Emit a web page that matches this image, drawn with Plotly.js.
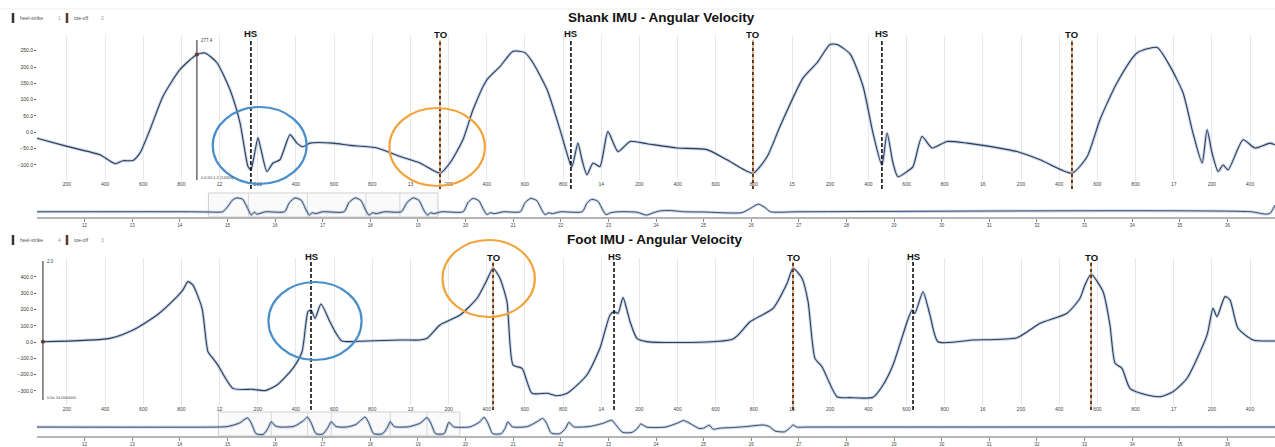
<!DOCTYPE html>
<html><head><meta charset="utf-8">
<script src="https://cdn.plot.ly/plotly-3.0.1.min.js"></script>
<style>html,body{margin:0;padding:0;background:#fff}#chart{width:1275px;height:447px}</style>
</head><body><div id="chart"></div>
<script>
// ---------- DATA ----------
const shankT = [11.043,11.2,11.373,11.452,11.493,11.546,11.583,11.635,11.703,11.792,11.881,11.923,11.986,12.054,12.107,12.149,12.164,12.180,12.201,12.217,12.248,12.280,12.316,12.369,12.405,12.437,12.474,12.594,12.683,12.825,12.945,13.050,13.155,13.207,13.275,13.328,13.401,13.469,13.538,13.600,13.642,13.716,13.784,13.836,13.847,13.878,13.899,13.925,13.957,13.993,14.035,14.088,14.151,14.240,14.397,14.554,14.659,14.795,14.869,14.937,15.057,15.131,15.199,15.236,15.304,15.372,15.424,15.471,15.498,15.529,15.555,15.603,15.634,15.681,15.734,15.812,15.917,16.001,16.179,16.300,16.467,16.546,16.614,16.703,16.808,16.913,16.981,17.049,17.101,17.149,17.175,17.201,17.233,17.259,17.285,17.364,17.426,17.505,17.531];
const shankV = [-18,-43,-69,-96,-87,-86,-63,8,110,192,238,243,213,131,29,-105,-115,-75,-17,-53,-120,-94,-84,-7,-33,-44,-33,-33,-40,-48,-74,-94,-125,-94,-23,69,161,201,248,244,213,131,8,-94,-105,-33,-84,-130,-94,-105,2,-59,-28,-35,-48,-53,-84,-125,-75,18,166,213,269,269,240,141,-2,-100,-2,-94,-136,-120,-105,-13,-48,-28,-33,-40,-59,-84,-125,-75,39,152,243,260,202,121,-2,-94,8,-63,-120,-100,-115,-23,-48,-33,-38];

const footT = [11.074,11.425,11.546,11.672,11.777,11.808,11.834,11.860,11.908,11.939,11.965,11.991,12.070,12.175,12.238,12.301,12.384,12.432,12.463,12.479,12.500,12.531,12.578,12.605,12.641,12.772,12.945,13.050,13.087,13.155,13.260,13.349,13.401,13.433,13.469,13.506,13.538,13.585,13.637,13.716,13.768,13.821,13.925,13.993,14.046,14.067,14.088,14.114,14.151,14.187,14.240,14.691,14.780,14.900,14.974,15.005,15.052,15.084,15.120,15.157,15.236,15.304,15.424,15.477,15.529,15.603,15.629,15.644,15.686,15.723,15.765,15.948,16.179,16.300,16.441,16.509,16.535,16.567,16.630,16.666,16.693,16.729,16.771,16.860,16.929,16.997,17.070,17.175,17.206,17.227,17.269,17.295,17.337,17.416,17.531];
const footV = [2,23,74,166,279,320,371,350,207,-59,-100,-141,-284,-290,-298,-263,-161,-59,187,197,146,234,125,64,7,7,13,13,23,105,166,269,381,453,392,248,-141,-161,-314,-314,-329,-314,-202,-38,166,187,177,273,125,23,3,19,125,207,361,453,392,248,-100,-151,-335,-341,-339,-263,-141,125,197,177,309,166,2,13,27,115,177,269,350,416,309,105,-130,-161,-284,-325,-335,-304,-222,44,207,156,279,259,85,13,7];

const shankHS = [12.164, 13.841, 15.471];
const shankTO = [13.155, 14.795, 16.467];
const footHS  = [12.479, 14.067, 15.634];
const footTO  = [13.433, 15.005, 16.567];

const shankOvT = [11.0,14.2,14.6,14.9,15.0,15.1,15.2,15.32,15.42,15.5,15.56,15.62,15.8,16.2,16.3,16.42,16.55,16.65,16.72,16.78,16.85,17.0,17.45,17.55,17.68,17.8,17.9,17.97,18.05,18.12,18.3,18.65,18.77,18.9,19.02,19.12,19.2,19.27,19.33,19.5,19.95,20.05,20.16,20.28,20.38,20.45,20.52,20.6,20.8,21.15,21.25,21.37,21.5,21.6,21.67,21.75,21.82,22.0,22.45,22.55,22.65,22.78,22.88,22.95,23.05,23.2,23.6,23.8,23.95,24.1,24.3,24.6,25.0,25.8,26.0,26.15,26.3,26.4,27.0,36.5,36.8,36.9,37.0];
const shankOvV = [-40,-40,-45,-40,60,200,250,220,40,-110,-50,-90,-40,-40,150,250,200,0,-110,-60,-80,-40,-40,150,250,200,0,-110,-60,-80,-40,-40,150,250,200,0,-110,-60,-80,-40,-40,150,240,190,0,-100,-60,-80,-40,-40,150,240,190,0,-100,-60,-80,-40,-40,140,220,180,0,-100,-60,-40,-50,-110,-60,-20,-15,-40,-45,-60,40,120,40,-40,-40,-40,-90,-70,100];

const footOvT = [11.0,14.8,15.0,15.25,15.42,15.5,15.6,15.75,15.85,15.92,16.0,16.1,16.4,16.6,16.68,16.76,16.86,17.0,17.1,17.18,17.28,17.5,17.7,17.89,17.97,18.07,18.25,18.35,18.42,18.5,18.8,19.05,19.19,19.27,19.37,19.55,19.6,19.65,19.75,20.1,20.3,20.39,20.47,20.57,20.75,20.83,20.89,20.98,21.3,21.5,21.62,21.7,21.8,21.98,22.1,22.17,22.27,22.6,22.9,23.07,23.15,23.3,23.5,23.62,23.68,23.8,24.2,24.45,24.58,24.75,24.9,25.0,25.12,25.2,25.35,25.6,25.9,26.1,26.25,26.38,26.5,26.7,26.82,26.88,26.95,27.2,37.0];
const footOvV = [0,0,20,150,350,150,-250,-280,-50,200,50,0,30,250,380,150,-250,-270,-50,200,20,0,100,380,150,-250,-260,-50,200,20,10,150,360,150,-250,-250,-50,180,10,10,200,370,150,-250,-250,-50,200,10,20,200,330,150,-230,-250,-50,180,10,20,150,260,100,-200,-200,-30,120,0,0,150,250,100,-50,-40,70,-80,-40,-20,20,60,80,20,-150,-180,-20,80,0,0,0];

const mainTickVals = [11.2,11.4,11.6,11.8,12,12.2,12.4,12.6,12.8,13,13.2,13.4,13.6,13.8,14,14.2,14.4,14.6,14.8,15,15.2,15.4,15.6,15.8,16,16.2,16.4,16.6,16.8,17,17.2,17.4];
const mainTickText = ["200","400","600","800","12","200","400","600","800","13","200","400","600","800","14","200","400","600","800","15","200","400","600","800","16","200","400","600","800","17","200","400"];
const ovTickVals = [12,13,14,15,16,17,18,19,20,21,22,23,24,25,26,27,28,29,30,31,32,33,34,35,36,37];
const ovTickText = ["12","13","14","15","16","17","18","19","20","21","22","23","24","25","26","27","28","29","30","31","32","33","34","35","36","37"];
const shankYTicks = [-100,-50,0,50,100,150,200,250];
const footYTicks = [-300,-200,-100,0,100,200,300,400];

const shankBrush = [14.6, 19.42];
const shankBrushMarks = [15.44, 16.68, 17.91, 18.62];
const footBrush = [14.81, 19.88];
const footBrushMarks = [15.92, 16.68, 17.18, 18.42, 19.19];

const titles = ["Shank IMU - Angular Velocity", "Foot IMU - Angular Velocity"];
const legendTop = ["heel-strike", "1", "toe-off", "2"];
const legendBottom = ["heel-strike", "4", "toe-off", "3"];
const hoverTopIdx = 10;   // crosshair point in shank series
const hoverBotIdx = 0;    // crosshair point in foot series
const hoverTopLabels = ["277.4", "0.0:01:1.2 (14400)"];
const hoverBotLabels = ["2.0", "0.0s 14.0t00000"];

// ---------- LAYOUT HELPERS ----------
const W = 1275, H = 447;
const fx = p => p / W;
const fy = p => 1 - p / H;
const FONT = "Liberation Sans, Arial, sans-serif";
const LINE = "#2e3d55", HALO = "rgba(130,165,210,0.45)";
const XL = fx(37);

function lineTraces(x, y, xa, ya, w) {
  return [
    {x, y, xaxis: xa, yaxis: ya, mode: "lines", line: {color: HALO, width: w + 2, shape: "spline", smoothing: 0.6}, hoverinfo: "skip", showlegend: false},
    {x, y, xaxis: xa, yaxis: ya, mode: "lines", line: {color: LINE, width: w, shape: "spline", smoothing: 0.6}, hoverinfo: "skip", showlegend: false}
  ];
}

const data = [
  ...lineTraces(shankT, shankV, "x", "y", 1.1),
  ...lineTraces(shankOvT, shankOvV, "x2", "y2", 0.9),
  ...lineTraces(footT, footV, "x3", "y3", 1.1),
  ...lineTraces(footOvT, footOvV, "x4", "y4", 0.9),
  {x: [shankT[hoverTopIdx]], y: [shankV[hoverTopIdx]], xaxis: "x", yaxis: "y", mode: "markers", marker: {color: "#7a1f1f", size: 4}, showlegend: false, hoverinfo: "skip"},
  {x: [footT[hoverBotIdx]], y: [footV[hoverBotIdx]], xaxis: "x3", yaxis: "y3", mode: "markers", marker: {color: "#7a1f1f", size: 4}, showlegend: false, hoverinfo: "skip", cliponaxis: false}
];

const mainX = (anchor) => ({
  domain: [XL, 1], range: [11.043, 17.531], anchor,
  tickvals: mainTickVals, ticktext: mainTickText, ticks: "",
  showgrid: true, gridcolor: "#e8e8e8", gridwidth: 1, zeroline: false, showline: false,
  tickfont: {size: 5, color: "#444", family: FONT}, fixedrange: true
});
const ovX = (anchor) => ({
  domain: [XL, 1], range: [11, 37], anchor,
  tickvals: ovTickVals, ticktext: ovTickText, ticks: "outside", ticklen: 3, tickcolor: "#888",
  showline: true, linecolor: "#b5b5b5", linewidth: 1.5, showgrid: false, zeroline: false,
  tickfont: {size: 4.5, color: "#444", family: FONT}, fixedrange: true
});
const mainY = (anchor, dom, rng, tv) => ({
  domain: dom, range: rng, anchor, tickvals: tv, tickformat: ".1f",
  ticks: "outside", ticklen: 2, tickcolor: "#555", showgrid: false, zeroline: false, showline: false,
  tickfont: {size: 5, color: "#333", family: FONT}, fixedrange: true
});

const shapes = [];
const annotations = [];

// faint top border
shapes.push({type: "line", xref: "paper", yref: "paper", x0: 0, x1: 1, y0: fy(9), y1: fy(9), line: {color: "#eeeeee", width: 1}});

function events(xa, hs, to, yTop, yBot, labelY) {
  to.forEach(t => {
    shapes.push({type: "line", xref: xa, yref: "paper", x0: t, x1: t, y0: fy(yBot), y1: fy(yTop), line: {color: "rgba(222,150,95,0.9)", width: 1.6}});
    shapes.push({type: "line", xref: xa, yref: "paper", x0: t, x1: t, y0: fy(yBot), y1: fy(yTop), line: {color: "#3a2418", width: 1.6, dash: "3px,3px"}});
    annotations.push({xref: xa, yref: "paper", x: t, y: fy(labelY), text: "<b>TO</b>", showarrow: false, font: {size: 9.5, color: "#111", family: FONT}, yanchor: "middle"});
  });
  hs.forEach(t => {
    shapes.push({type: "line", xref: xa, yref: "paper", x0: t, x1: t, y0: fy(yBot), y1: fy(yTop), line: {color: "#111", width: 1.6, dash: "4px,2px"}});
    annotations.push({xref: xa, yref: "paper", x: t, y: fy(labelY - 1), text: "<b>HS</b>", showarrow: false, font: {size: 9.5, color: "#111", family: FONT}, yanchor: "middle"});
  });
}
events("x", shankHS, shankTO, 40, 189, 34);
events("x3", footHS, footTO, 262, 410, 257);

// highlight ellipses (centered on the first heel-strike / toe-off of each panel)
function ellipse(xa, tc, halfW, yTop, yBot, color) {
  shapes.push({type: "circle", xref: xa, yref: "paper", x0: tc - halfW, x1: tc + halfW, y0: fy(yBot), y1: fy(yTop), line: {color, width: 2.2}, fillcolor: "rgba(0,0,0,0)"});
}
ellipse("x", 12.21, 0.246, 107, 184, "#4a8fcb");
ellipse("x", 13.14, 0.25, 108, 186, "#f2a33c");
ellipse("x3", 12.50, 0.244, 282, 360, "#4a8fcb");
ellipse("x3", 13.41, 0.242, 240, 317, "#f2a33c");

// brush boxes on overviews
function brush(xa, b, marks, yTop, yBot) {
  shapes.push({type: "rect", xref: xa, yref: "paper", x0: b[0], x1: b[1], y0: fy(yBot), y1: fy(yTop), line: {color: "#cfcfcf", width: 1}, fillcolor: "rgba(235,235,235,0.25)", layer: "below"});
  marks.forEach(m => shapes.push({type: "line", xref: xa, yref: "paper", x0: m, x1: m, y0: fy(yBot), y1: fy(yTop), line: {color: "#d8d8d8", width: 1}, layer: "below"}));
}
brush("x2", shankBrush, shankBrushMarks, 193, 217);
brush("x4", footBrush, footBrushMarks, 412, 436);

// hover crosshairs
function crosshair(xa, t, yTop, yBot, labels) {
  shapes.push({type: "line", xref: xa, yref: "paper", x0: t, x1: t, y0: fy(yBot), y1: fy(yTop), line: {color: "#555", width: 1.3}});
  annotations.push({xref: xa, yref: "paper", x: t, y: fy(yTop), xshift: 2, text: labels[0], showarrow: false, xanchor: "left", yanchor: "middle", font: {size: 4.5, color: "#444", family: FONT}});
  annotations.push({xref: xa, yref: "paper", x: t, y: fy(yBot - 3), xshift: 2, text: labels[1], showarrow: false, xanchor: "left", yanchor: "middle", font: {size: 4, color: "#444", family: FONT}});
}
crosshair("x", shankT[hoverTopIdx], 40, 180, hoverTopLabels);
crosshair("x3", footT[hoverBotIdx], 261, 400, hoverBotLabels);

// titles
annotations.push({xref: "paper", yref: "paper", x: fx(662), y: fy(18), text: "<b>" + titles[0] + "</b>", showarrow: false, xanchor: "center", yanchor: "middle", font: {size: 13.5, color: "#111", family: FONT}});
annotations.push({xref: "paper", yref: "paper", x: fx(655), y: fy(239), text: "<b>" + titles[1] + "</b>", showarrow: false, xanchor: "center", yanchor: "middle", font: {size: 13.5, color: "#111", family: FONT}});

// pseudo legends
function legend(items, y) {
  shapes.push({type: "line", xref: "paper", yref: "paper", x0: fx(13), x1: fx(13), y0: fy(y + 5), y1: fy(y - 5), line: {color: "#333", width: 2.5}});
  shapes.push({type: "line", xref: "paper", yref: "paper", x0: fx(67), x1: fx(67), y0: fy(y + 5), y1: fy(y - 5), line: {color: "#5a3a2a", width: 2.5}});
  const pos = [18, 56, 72, 99];
  const col = ["#555", "#999", "#555", "#999"];
  items.forEach((s, i) => annotations.push({xref: "paper", yref: "paper", x: fx(pos[i]), y: fy(y), text: s, showarrow: false, xanchor: "left", yanchor: "middle", font: {size: 5, color: col[i], family: FONT}}));
}
legend(legendTop, 18);
legend(legendBottom, 240);

const layout = {
  width: W, height: H, margin: {l: 0, r: 0, t: 0, b: 0},
  paper_bgcolor: "#fff", plot_bgcolor: "rgba(0,0,0,0)", showlegend: false,
  font: {family: FONT},
  xaxis: mainX("y"),
  yaxis: mainY("x", [fy(180), fy(35)], [-146, 298], shankYTicks),
  xaxis2: ovX("y2"),
  yaxis2: {domain: [fy(217), fy(196)], range: [-150, 290], anchor: "x2", visible: false, fixedrange: true},
  xaxis3: mainX("y3"),
  yaxis3: mainY("x3", [fy(405), fy(258)], [-386, 516], footYTicks),
  xaxis4: ovX("y4"),
  yaxis4: {domain: [fy(436), fy(416)], range: [-340, 420], anchor: "x4", visible: false, fixedrange: true},
  shapes, annotations
};

Plotly.newPlot("chart", data, layout, {displayModeBar: false, staticPlot: true});
</script></body></html>
